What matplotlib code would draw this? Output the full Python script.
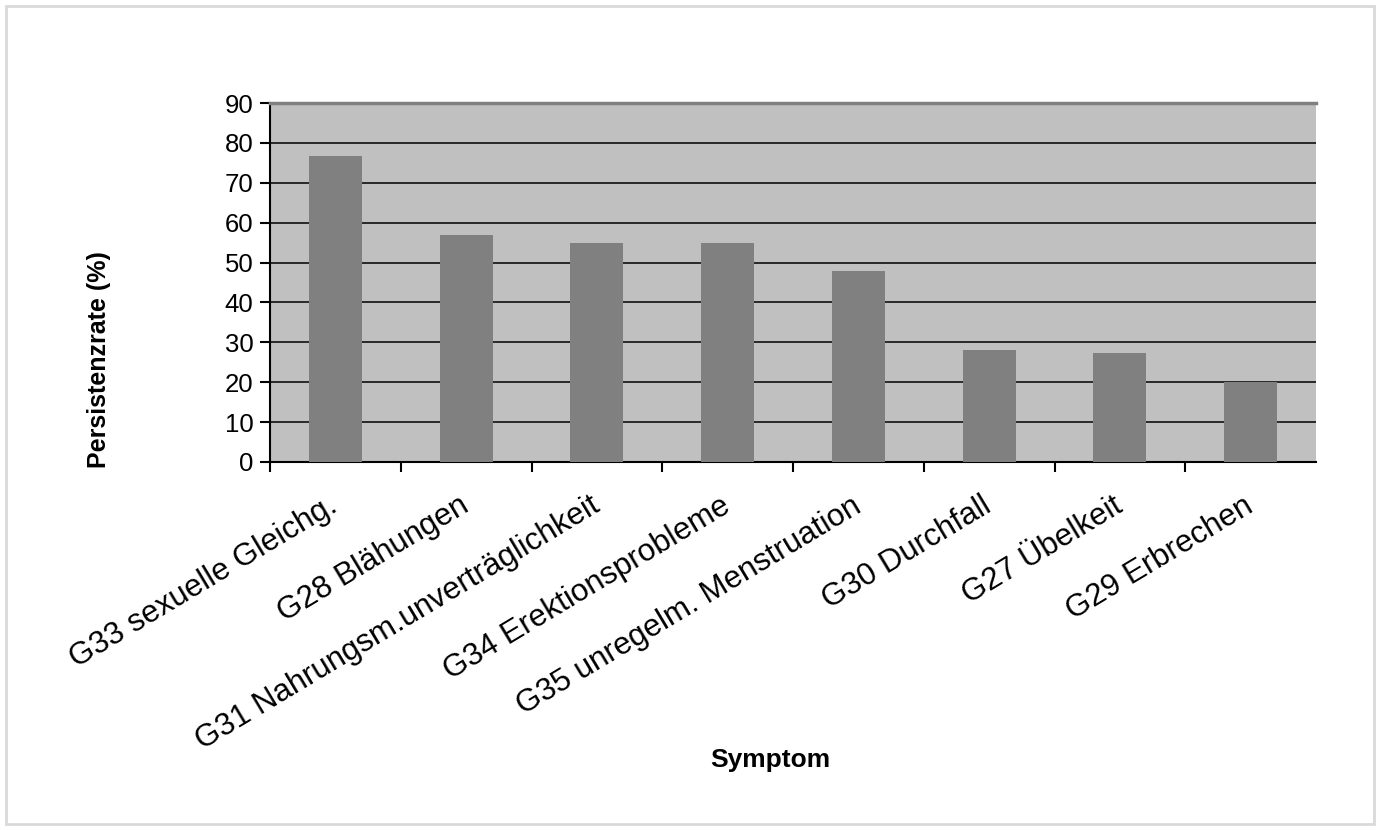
import matplotlib.pyplot as plt
from matplotlib.patches import Rectangle
import numpy as np

plt.rcParams['font.family'] = ['Liberation Sans', 'DejaVu Sans']

symptoms = [
    "G33 sexuelle Gleichg.",
    "G28 Blähungen",
    "G31 Nahrungsm.unverträglichkeit",
    "G34 Erektionsprobleme",
    "G35 unregelm. Menstruation",
    "G30 Durchfall",
    "G27 Übelkeit",
    "G29 Erbrechen",
]
persistence = [76.7, 56.8, 55.0, 55.0, 47.9, 28.1, 27.3, 20.1]
y_ticks = list(range(0, 100, 10))

fig = plt.figure(figsize=(13.81, 8.30), dpi=100)
fig.patches.append(Rectangle((0.004, 0.007), 0.991, 0.986, transform=fig.transFigure,
                             fill=False, edgecolor='#d9d9d9', linewidth=2))

ax = fig.add_axes([0.1955, 0.4434, 0.7575, 0.4325])
ax.set_facecolor('#c0c0c0')

x = np.arange(len(symptoms))
ax.bar(x, persistence, width=0.405, color='#808080', zorder=3)

ax.set_xlim(-0.5, len(symptoms) - 0.5)
ax.set_ylim(0, 90)
ax.set_yticks(y_ticks)
ax.yaxis.grid(True, color='black', linewidth=1.1, zorder=1)
ax.set_axisbelow(True)

# labels at category centres, tick marks at the boundaries
ax.set_xticks(x)
ax.set_xticklabels(symptoms, rotation=31, ha='right', va='center',
                   rotation_mode='anchor', fontsize=22.5)
ax.set_xticks(np.arange(len(symptoms)) - 0.5, minor=True)
ax.tick_params(axis='x', which='major', length=0, pad=30)
ax.tick_params(axis='x', which='minor', length=7, width=1.5, direction='out')
ax.tick_params(axis='y', length=7, width=1.5, direction='out', labelsize=18.5, pad=5)

ax.spines['right'].set_visible(False)
ax.spines['top'].set_color('#808080')
ax.spines['top'].set_linewidth(2.5)
ax.spines['left'].set_linewidth(1.5)
ax.spines['bottom'].set_linewidth(1.5)

ax.set_ylabel("Persistenzrate (%)", fontsize=18, fontweight='bold')
ax.yaxis.set_label_coords(-0.152, 0.284)
fig.text(0.558, 0.084, "Symptom", fontsize=19, fontweight='bold', ha='center', va='center')

fig.savefig("out.png", dpi=100)
